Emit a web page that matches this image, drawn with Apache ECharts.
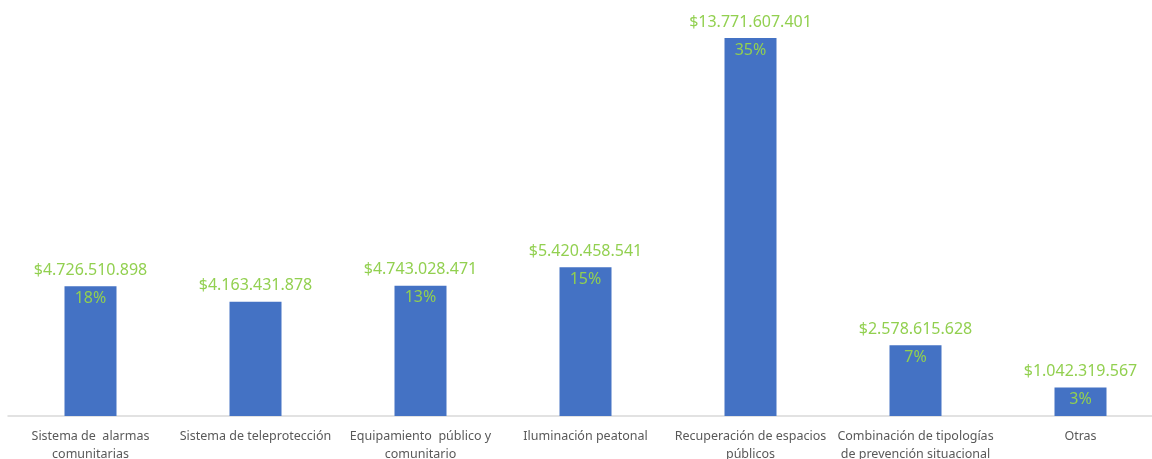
<!DOCTYPE html>
<html>
<head>
<meta charset="utf-8">
<script src="https://cdn.jsdelivr.net/npm/echarts@6/dist/echarts.min.js"></script>
<style>
  html, body { margin: 0; padding: 0; background: #fff; }
  #chart { width: 1152px; height: 459px; }
</style>
</head>
<body>
<div id="chart"></div>
<script>
const categories = [
  'Sistema de  alarmas\ncomunitarias',
  'Sistema de teleprotección',
  'Equipamiento  público y\ncomunitario',
  'Iluminación peatonal',
  'Recuperación de espacios\npúblicos',
  'Combinación de tipologías\nde prevención situacional',
  'Otras'
]
const amounts = [4726510898, 4163431878, 4743028471, 5420458541, 13771607401, 2578615628, 1042319567]
const shares = [18, null, 13, 15, 35, 7, 3] // % shown inside the bars

const GREEN = '#92D050'

function money(v) {
  return '$' + String(v).replace(/\B(?=(\d{3})+(?!\d))/g, '.')
}

const chart = echarts.init(document.getElementById('chart'))

chart.setOption({
  animation: false,
  grid: { left: 8, width: 1155, top: 38, bottom: 43, outerBoundsMode: 'none', containLabel: false },
  xAxis: {
    type: 'category',
    data: categories,
    axisTick: { show: false },
    axisLine: { lineStyle: { color: '#d9d9d9', width: 1.5 } },
    axisLabel: {
      color: '#595959',
      fontFamily: 'Noto Sans',
      fontSize: 12.5,
      lineHeight: 18,
      margin: 11,
      interval: 0
    }
  },
  yAxis: {
    type: 'value',
    min: 0,
    max: 'dataMax',
    show: false
  },
  series: [
    {
      type: 'bar',
      data: amounts,
      barWidth: 52,
      itemStyle: { color: '#4472C4' },
      label: {
        show: true,
        position: 'top',
        distance: 8,
        color: GREEN,
        fontFamily: 'Noto Sans',
        fontSize: 16,
        formatter: p => money(p.value)
      }
    },
    {
      type: 'bar',
      data: amounts,
      barWidth: 52,
      barGap: '-100%',
      itemStyle: { color: 'transparent' },
      silent: true,
      label: {
        show: true,
        position: 'insideTop',
        distance: 4,
        color: GREEN,
        fontFamily: 'Noto Sans',
        fontSize: 16,
        formatter: p => shares[p.dataIndex] == null ? '' : shares[p.dataIndex] + '%'
      }
    }
  ]
})
</script>
</body>
</html>
